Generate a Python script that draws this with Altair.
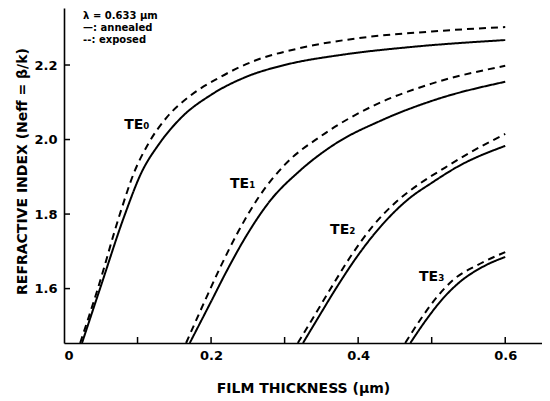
import altair as alt
import pandas as pd

# ---- data ----
te0_ann_x = [0.0245, 0.049, 0.083, 0.105, 0.13, 0.16, 0.2, 0.25, 0.3, 0.38, 0.47, 0.6]
te0_ann_y = [1.454, 1.6, 1.8, 1.91, 1.99, 2.06, 2.12, 2.17, 2.2, 2.228, 2.248, 2.267]
te0_exp_x = [0.022, 0.046, 0.076, 0.095, 0.115, 0.14, 0.17, 0.21, 0.26, 0.32, 0.4, 0.5, 0.6]
te0_exp_y = [1.454, 1.6, 1.8, 1.91, 1.99, 2.06, 2.115, 2.165, 2.212, 2.245, 2.272, 2.29, 2.302]

te1_ann_x = [0.171, 0.201, 0.222, 0.249, 0.280, 0.32, 0.37, 0.43, 0.51, 0.6]
te1_ann_y = [1.454, 1.569, 1.65, 1.745, 1.835, 1.915, 1.99, 2.05, 2.11, 2.155]
te1_exp_x = [0.166, 0.192, 0.212, 0.237, 0.264, 0.3, 0.35, 0.42, 0.5, 0.6]
te1_exp_y = [1.454, 1.569, 1.655, 1.753, 1.843, 1.932, 2.01, 2.09, 2.15, 2.198]

te2_ann_x = [0.325, 0.346, 0.371, 0.400, 0.433, 0.467, 0.501, 0.536, 0.6]
te2_ann_y = [1.454, 1.523, 1.604, 1.690, 1.772, 1.838, 1.885, 1.928, 1.983]
te2_exp_x = [0.318, 0.337, 0.362, 0.389, 0.420, 0.453, 0.484, 0.516, 0.552, 0.6]
te2_exp_y = [1.454, 1.516, 1.598, 1.684, 1.768, 1.835, 1.882, 1.922, 1.965, 2.015]

te3_ann_x = [0.471, 0.491, 0.516, 0.539, 0.570, 0.6]
te3_ann_y = [1.454, 1.512, 1.575, 1.619, 1.659, 1.685]
te3_exp_x = [0.464, 0.484, 0.507, 0.529, 0.562, 0.6]
te3_exp_y = [1.454, 1.515, 1.577, 1.623, 1.663, 1.698]

mode_names = ["TE₀", "TE₁", "TE₂", "TE₃"]
mode_label_x = [0.099, 0.243, 0.379, 0.500]
mode_label_y = [2.039, 1.881, 1.757, 1.631]

legend_lines = ["λ = 0.633 μm", "—: annealed", "--: exposed"]
legend_x = [0.026, 0.026, 0.026]
legend_y = [2.3315, 2.299, 2.267]

x_tick_labels = [0, 0.2, 0.4, 0.6]
x_minor_ticks = [0.1, 0.2, 0.3, 0.4, 0.5, 0.6]
y_ticks = [1.6, 1.8, 2.0, 2.2]

X_DOMAIN = [0, 0.65]
Y_DOMAIN = [1.454, 2.353]
W, H = 478, 335
FONT = "DejaVu Sans"

# ---- build tables ----
rows = []
series = [
    ("TE0", "annealed", te0_ann_x, te0_ann_y), ("TE0", "exposed", te0_exp_x, te0_exp_y),
    ("TE1", "annealed", te1_ann_x, te1_ann_y), ("TE1", "exposed", te1_exp_x, te1_exp_y),
    ("TE2", "annealed", te2_ann_x, te2_ann_y), ("TE2", "exposed", te2_exp_x, te2_exp_y),
    ("TE3", "annealed", te3_ann_x, te3_ann_y), ("TE3", "exposed", te3_exp_x, te3_exp_y),
]
for mode, cond, xs, ys in series:
    for i, (xv, yv) in enumerate(zip(xs, ys)):
        rows.append({"mode": mode, "cond": cond, "key": mode + cond, "order": i, "x": xv, "y": yv})
df = pd.DataFrame(rows)

labels_df = pd.DataFrame({"x": mode_label_x, "y": mode_label_y, "text": mode_names})
legend_df = pd.DataFrame({"x": legend_x, "y": legend_y, "text": legend_lines})
xt_df = pd.DataFrame({"x": x_minor_ticks})
yt_df = pd.DataFrame({"y": y_ticks})

xscale = alt.Scale(domain=X_DOMAIN, nice=False, zero=False)
yscale = alt.Scale(domain=Y_DOMAIN, nice=False, zero=False)

lines = alt.Chart(df).mark_line(color="black", strokeWidth=2, interpolate="monotone").encode(
    x=alt.X("x:Q", scale=xscale,
            axis=alt.Axis(values=x_tick_labels, ticks=False, grid=False,
                          domainColor="black", domainWidth=1.6,
                          labelExpr="datum.value == 0 ? '0' : format(datum.value, '.1f')",
                          labelFont=FONT, labelFontSize=13, labelFontWeight="bold",
                          labelColor="black", labelPadding=6,
                          title="FILM THICKNESS (μm)", titleFont=FONT, titleFontSize=14,
                          titleFontWeight="bold", titleColor="black",
                          titleY=38, titleBaseline="top")),
    y=alt.Y("y:Q", scale=yscale,
            axis=alt.Axis(values=y_ticks, ticks=False, grid=False,
                          domainColor="black", domainWidth=1.6,
                          format=".1f",
                          labelFont=FONT, labelFontSize=13, labelFontWeight="bold",
                          labelColor="black", labelPadding=7,
                          title="REFRACTIVE INDEX (Neff = β/k)", titleFont=FONT,
                          titleFontSize=14, titleFontWeight="bold", titleColor="black",
                          titleX=-35, titleY=163, titleAngle=-90)),
    detail="key:N",
    order="order:Q",
    strokeDash=alt.StrokeDash("cond:N",
                              scale=alt.Scale(domain=["annealed", "exposed"], range=[[1, 0], [7, 5]]),
                              legend=None),
)

te_labels = alt.Chart(labels_df).mark_text(font=FONT, fontSize=14, fontWeight="bold",
                                           color="black").encode(
    x=alt.X("x:Q", scale=xscale), y=alt.Y("y:Q", scale=yscale), text="text:N")

legend_txt = alt.Chart(legend_df).mark_text(font=FONT, fontSize=10, fontWeight="bold",
                                            color="black", align="left", baseline="middle").encode(
    x=alt.X("x:Q", scale=xscale), y=alt.Y("y:Q", scale=yscale), text="text:N")

xticks = alt.Chart(xt_df).mark_rule(color="black", strokeWidth=1.5).encode(
    x=alt.X("x:Q", scale=xscale), y=alt.value(H), y2=alt.value(H - 6))

yticks = alt.Chart(yt_df).mark_rule(color="black", strokeWidth=1.5).encode(
    y=alt.Y("y:Q", scale=yscale), x=alt.value(0), x2=alt.value(6))

chart = alt.layer(lines, te_labels, legend_txt, xticks, yticks).properties(
    width=W, height=H,
    autosize=alt.AutoSizeParams(type="none"),
    padding={"left": 56, "top": 0, "right": 0, "bottom": 56},
    background="white",
).configure_view(stroke=None)

chart.save("out.html", embed_options={"renderer": "svg", "actions": False})
